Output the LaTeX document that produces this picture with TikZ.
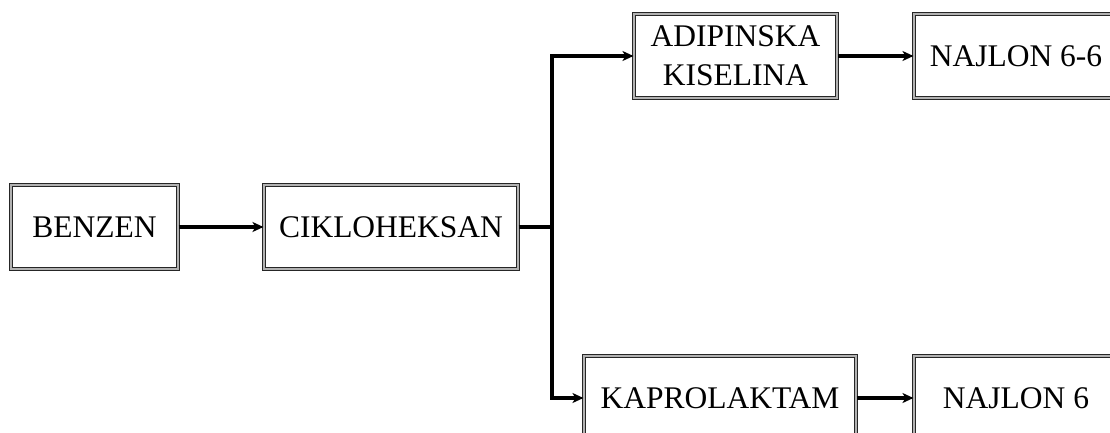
\documentclass[tikz,border=0pt]{standalone}
\usepackage{fontspec}
\setmainfont{Liberation Serif}
\usetikzlibrary{arrows.meta}
\begin{document}
\begin{tikzpicture}[x=1pt,y=-1pt,
  box/.style={draw=black!85, line width=1.1pt, double=gray!60, double distance=1.6pt,
    fill=white, inner sep=0pt, minimum height=84pt, align=center,
    font=\fontsize{31.5}{39}\selectfont},
  conn/.style={line width=3.2pt, -{Stealth[length=11pt,width=10pt,inset=3pt]}},
  plain/.style={line width=3.2pt}]
\useasboundingbox (0,0) rectangle (1110,433);
\clip (0,0) rectangle (1110,433);
\node[box, minimum width=167pt] (benzen) at (94.5,227) {BENZEN};
\node[box, minimum width=254pt] (ciklo) at (391,227) {CIKLOHEKSAN};
\node[box, minimum width=203pt] (adip) at (735.5,56) {ADIPINSKA\\KISELINA};
\node[box, minimum width=204pt] (n66) at (1016,56) {NAJLON 6-6};
\node[box, minimum width=272pt] (kapro) at (720,398) {KAPROLAKTAM};
\node[box, minimum width=204pt] (n6) at (1016,398) {NAJLON 6};
\coordinate (br) at (552,227);
\draw[conn] (benzen) -- (ciklo);
\draw[plain] (ciklo.east) -- (br);
\draw[conn] (br) |- (adip.west);
\draw[conn] (br) |- (kapro.west);
\draw[conn] (adip) -- (n66);
\draw[conn] (kapro) -- (n6);
\end{tikzpicture}
\end{document}
